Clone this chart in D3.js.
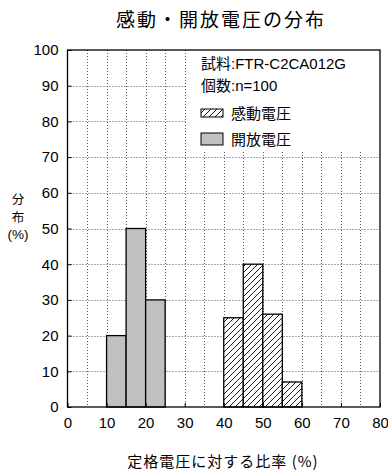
<!DOCTYPE html>
<html>
<head>
<meta charset="utf-8">
<script src="https://cdn.jsdelivr.net/npm/d3@7"></script>
<style>
  body { margin: 0; background: #fff; }
  svg { display: block; font-family: "Liberation Sans", Arial, "Noto Sans CJK JP", sans-serif; }
</style>
</head>
<body>
<svg id="chart" width="388" height="472"></svg>
<script>
const title = "感動・開放電圧の分布";
const xLabel = "定格電圧に対する比率 (%)";
const yLabelLines = ["分", "布", "(%)"];

const binWidth = 5;
const operateBins = [40, 45, 50, 55];
const operateValues = [25, 40, 26, 7];
const releaseBins = [10, 15, 20];
const releaseValues = [20, 50, 30];

const xTicks = [0, 10, 20, 30, 40, 50, 60, 70, 80];
const yTicks = [0, 10, 20, 30, 40, 50, 60, 70, 80, 90, 100];
const xGrid = [5, 10, 15, 20, 25, 30, 35, 40, 45, 50, 55, 60, 65, 70, 75];
const yGrid = [10, 20, 30, 40, 50, 60, 70, 80, 90];

const legendInfo = ["試料:FTR-C2CA012G", "個数:n=100"];
const seriesNames = ["感動電圧", "開放電圧"];

main();

function main() {
  const svg = d3.select("#chart");
  const left = 67.5, right = 380, top = 50, bottom = 407;

  const x = d3.scaleLinear().domain([0, 80]).range([left, right]);
  const y = d3.scaleLinear().domain([0, 100]).range([bottom, top]);

  // hatch pattern
  const defs = svg.append("defs");
  const pat = defs.append("pattern")
    .attr("id", "hatch")
    .attr("patternUnits", "userSpaceOnUse")
    .attr("width", 6)
    .attr("height", 6);
  pat.append("rect").attr("width", 6).attr("height", 6).attr("fill", "#fff");
  pat.append("path")
    .attr("d", "M0,6 L6,0 M-1,1 L1,-1 M5,7 L7,5")
    .attr("stroke", "#000").attr("stroke-width", 0.9);

  // grid
  svg.append("g").selectAll("line").data(xGrid).join("line")
    .attr("x1", d => Math.round(x(d)) + 0.5).attr("x2", d => Math.round(x(d)) + 0.5)
    .attr("y1", top).attr("y2", bottom)
    .attr("stroke", "#555").attr("stroke-width", 1).attr("stroke-dasharray", "1,2");
  svg.append("g").selectAll("line").data(yGrid).join("line")
    .attr("x1", left).attr("x2", right)
    .attr("y1", d => Math.round(y(d)) + 0.5).attr("y2", d => Math.round(y(d)) + 0.5)
    .attr("stroke", "#555").attr("stroke-width", 1).attr("stroke-dasharray", "1,2");

  // legend background hides grid
  svg.append("rect")
    .attr("x", x(30) + 2).attr("y", top)
    .attr("width", right - x(30) - 2).attr("height", 102)
    .attr("fill", "#fff");

  // bars
  svg.append("g").selectAll("rect").data(releaseBins).join("rect")
    .attr("x", d => x(d))
    .attr("width", d => x(d + binWidth) - x(d))
    .attr("y", (d, i) => y(releaseValues[i]))
    .attr("height", (d, i) => y(0) - y(releaseValues[i]))
    .attr("fill", "#c0c0c0").attr("stroke", "#000").attr("stroke-width", 1.3);

  svg.append("g").selectAll("rect").data(operateBins).join("rect")
    .attr("x", d => x(d))
    .attr("width", d => x(d + binWidth) - x(d))
    .attr("y", (d, i) => y(operateValues[i]))
    .attr("height", (d, i) => y(0) - y(operateValues[i]))
    .attr("fill", "url(#hatch)").attr("stroke", "#000").attr("stroke-width", 1.3);

  // frame
  svg.append("rect")
    .attr("x", left).attr("y", top)
    .attr("width", right - left).attr("height", bottom - top)
    .attr("fill", "none").attr("stroke", "#000").attr("stroke-width", 1.3);

  // axes with inward ticks
  const xAxis = d3.axisBottom(x).tickValues(xTicks).tickSize(-4).tickPadding(10);
  const gx = svg.append("g").attr("transform", `translate(0,${bottom})`).call(xAxis);
  gx.select(".domain").remove();
  gx.selectAll("text").attr("font-size", 15).attr("fill", "#000")
    .attr("font-family", "'Liberation Sans', Arial, sans-serif");

  const yAxis = d3.axisLeft(y).tickValues(yTicks).tickSize(-4).tickPadding(9);
  const gy = svg.append("g").attr("transform", `translate(${left},0)`).call(yAxis);
  gy.select(".domain").remove();
  gy.selectAll("text").attr("font-size", 15).attr("fill", "#000")
    .attr("font-family", "'Liberation Sans', Arial, sans-serif");

  // title
  svg.append("text")
    .text(title)
    .attr("x", 221).attr("y", 27)
    .attr("text-anchor", "middle")
    .attr("font-size", 19)
    .attr("letter-spacing", 2)
    .attr("font-family", "'Noto Sans CJK JP', sans-serif");

  // x label
  svg.append("text")
    .text(xLabel)
    .attr("x", 223).attr("y", 467)
    .attr("text-anchor", "middle")
    .attr("font-size", 15)
    .attr("letter-spacing", 1)
    .attr("font-family", "'Noto Sans CJK JP', sans-serif");

  // y label (last line in latin font, tighter box)
  const yBase = [203.5, 221.5, 238.5];
  svg.append("g").selectAll("text").data(yLabelLines).join("text")
    .text(d => d)
    .attr("x", 18)
    .attr("y", (d, i) => yBase[i])
    .attr("text-anchor", "middle")
    .attr("font-size", (d, i) => i === 2 ? 13.5 : 12.5)
    .attr("font-family", (d, i) => i === 2
      ? "'Liberation Sans', Arial, sans-serif"
      : "'Noto Sans CJK JP', sans-serif");

  // legend
  const lx = 201;
  svg.append("g").selectAll("text").data(legendInfo).join("text")
    .text(d => d)
    .attr("x", lx)
    .attr("y", (d, i) => 69 + i * 22)
    .attr("font-size", 15)
    .attr("font-family", "'Liberation Sans', 'Noto Sans CJK JP', sans-serif");

  const fills = ["url(#hatch)", "#c0c0c0"];
  const sw = svg.append("g").selectAll("g").data(seriesNames).join("g")
    .attr("transform", (d, i) => `translate(${lx},${113 + i * 26})`);
  sw.append("rect")
    .attr("x", 0).attr("y", (d, i) => i === 0 ? -4 : -6)
    .attr("width", 22).attr("height", (d, i) => i === 0 ? 8 : 12)
    .attr("fill", (d, i) => fills[i])
    .attr("stroke", "#000").attr("stroke-width", 1);
  sw.append("text")
    .text(d => d)
    .attr("x", 30).attr("y", 5.5)
    .attr("font-size", 15)
    .attr("font-family", "'Noto Sans CJK JP', sans-serif");
}
</script>
</body>
</html>
